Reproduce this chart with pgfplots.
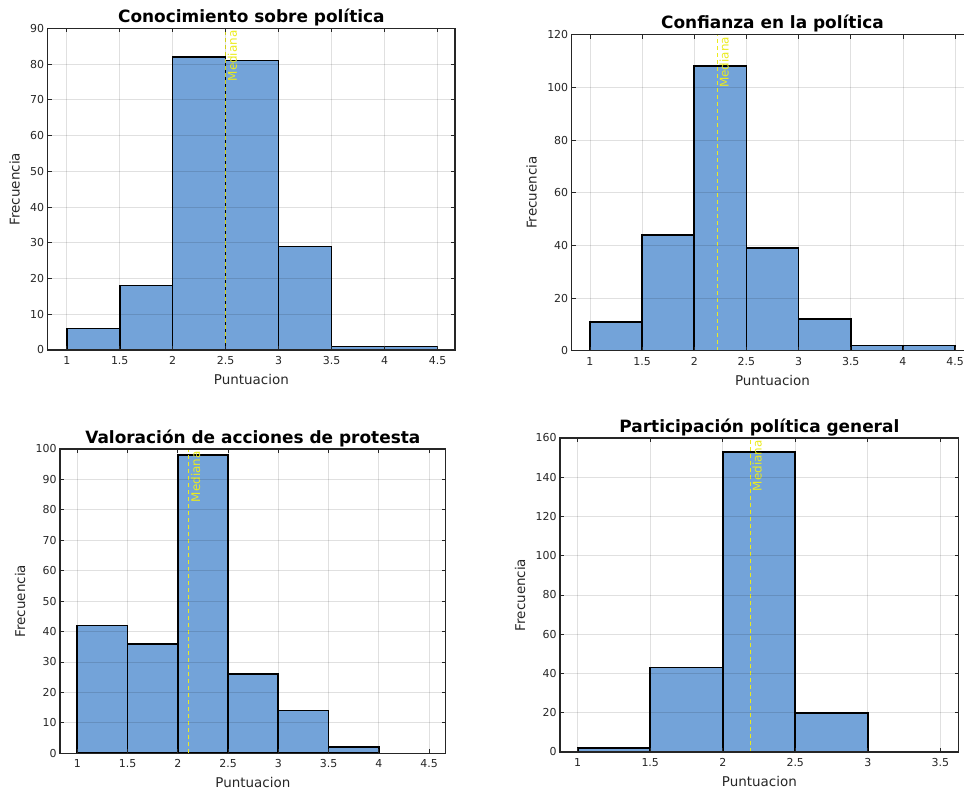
\documentclass[border=0pt]{standalone}
\usepackage{pgfplots}
\pgfplotsset{compat=1.18}
\usepackage{fontspec}
\setmainfont{DejaVu Sans}
\definecolor{barblue}{RGB}{115,163,217}
\definecolor{axgray}{RGB}{38,38,38}
\definecolor{medyellow}{RGB}{235,235,30}
\pgfplotsset{
 hist/.style={
  scale only axis, anchor=south west,
  ymin=0,
  xtick={1,1.5,2,2.5,3,3.5,4,4.5},
  axis line style={axgray, line width=1.3bp},
  tick style={axgray, line width=0.8bp},
  major tick length=4bp,
  tick align=inside,
  grid=major,
  major grid style={black, opacity=0.12, line width=0.8bp},
  axis on top,
  /pgf/number format/assume math mode=true,
  ticklabel style={font=\fontsize{11}{13}\selectfont, text=axgray},
  xticklabel style={yshift=-3bp},
  label style={font=\fontsize{13.5}{16}\selectfont, text=axgray},
  xlabel style={at={(axis description cs:0.5,0)}, anchor=north, yshift=-24bp, inner sep=0pt},
  ylabel style={yshift=3.5bp},
  title style={font=\fontsize{17}{20}\selectfont\bfseries, inner sep=0pt, yshift=-4bp},
  xlabel={Puntuacion}, ylabel={Frecuencia},
 },
 barstyle/.style={ybar interval, fill=barblue, draw=black, line width=1.6bp},
 medline/.style={medyellow, dashed, dash pattern=on 4bp off 3bp, line width=0.7bp},
}
\tikzset{medlabel/.style={rotate=90, anchor=north east, text=medyellow, font=\fontsize{12}{14}\selectfont, inner sep=2bp}}
\begin{document}
\begin{tikzpicture}
\useasboundingbox (0bp,0bp) rectangle (964bp,793bp);
% Top left
\begin{axis}[hist, at={(47.7bp,443bp)}, width=407.3bp, height=321.7bp,
  xmin=0.82, xmax=4.665, ymax=90, ytick={0,10,...,90},
  title={Conocimiento sobre política}]
\addplot[barstyle] coordinates {(1,6) (1.5,18) (2,82) (2.5,81) (3,29) (3.5,1) (4,1) (4.5,1)};
\addplot[medline] coordinates {(2.5,0) (2.5,90)};
\node[medlabel] at (axis cs:2.5,90) {Mediana};
\end{axis}
% Top right
\begin{axis}[hist, at={(571.7bp,442.3bp)}, width=401.6bp, height=316bp,
  xmin=0.825, xmax=4.675, ymax=120, ytick={0,20,...,120},
  title={Confianza en la política}]
\addplot[barstyle] coordinates {(1,11) (1.5,44) (2,108) (2.5,39) (3,12) (3.5,2) (4,2) (4.5,2)};
\addplot[medline] coordinates {(2.22,0) (2.22,120)};
\node[medlabel] at (axis cs:2.22,120) {Mediana};
\end{axis}
% Bottom left
\begin{axis}[hist, at={(60bp,39.7bp)}, width=385.7bp, height=304.3bp,
  xmin=0.828, xmax=4.666, ymax=100, ytick={0,10,...,100},
  title={Valoración de acciones de protesta}]
\addplot[barstyle] coordinates {(1,42) (1.5,36) (2,98) (2.5,26) (3,14) (3.5,2) (4,2)};
\addplot[medline] coordinates {(2.11,0) (2.11,100)};
\node[medlabel] at (axis cs:2.11,100) {Mediana};
\end{axis}
% Bottom right
\begin{axis}[hist, at={(560bp,41bp)}, width=398.7bp, height=314bp,
  xmin=0.878, xmax=3.627, ymax=160, ytick={0,20,...,160},
  xtick={1,1.5,2,2.5,3,3.5},
  title={Participación política general}]
\addplot[barstyle] coordinates {(1,2) (1.5,43) (2,153) (2.5,20) (3,20)};
\addplot[medline] coordinates {(2.19,0) (2.19,160)};
\node[medlabel] at (axis cs:2.19,160) {Mediana};
\end{axis}
\end{tikzpicture}
\end{document}
